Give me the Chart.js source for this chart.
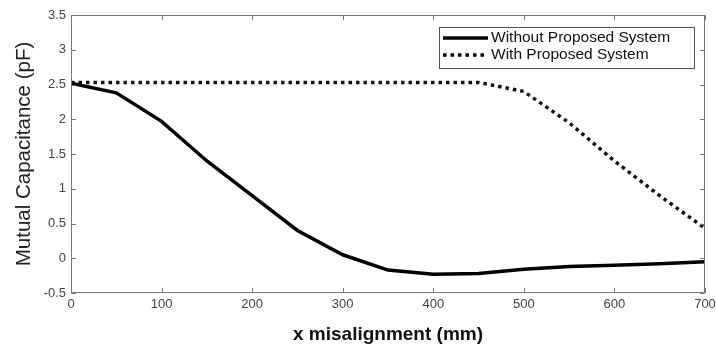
<!DOCTYPE html>
<html>
<head>
<meta charset="utf-8">
<script src="https://cdn.jsdelivr.net/npm/chart.js@4"></script>
<style>
  html, body { margin: 0; padding: 0; background: #fff; }
  #wrap { width: 716px; height: 344px; }
</style>
</head>
<body>
<div id="wrap"><canvas id="capChart"></canvas></div>
<script>
const xValues = [0, 50, 100, 150, 200, 250, 300, 350, 400, 450, 500, 550, 600, 650, 700];
const withoutSystem = [2.52, 2.38, 1.97, 1.40, 0.90, 0.40, 0.05, -0.17, -0.23, -0.22, -0.16, -0.12, -0.10, -0.08, -0.05];
const withSystem = [2.53, 2.53, 2.53, 2.53, 2.53, 2.53, 2.53, 2.53, 2.53, 2.53, 2.40, 1.95, 1.40, 0.90, 0.43];
const seriesNames = ["Without Proposed System", "With Proposed System"];
const xTicks = [0, 100, 200, 300, 400, 500, 600, 700];
const yTicks = [-0.5, 0, 0.5, 1, 1.5, 2, 2.5, 3, 3.5];

const toPoints = (ys) => xValues.map((x, i) => ({ x: x, y: ys[i] }));

// frame on top/right plus inward tick marks on all four sides
const framePlugin = {
  id: "frame",
  afterDatasetsDraw(chart) {
    const { ctx, chartArea: a, scales } = chart;
    ctx.save();
    ctx.strokeStyle = "#777";
    ctx.lineWidth = 1;
    ctx.beginPath();
    ctx.rect(a.left + 0.5, a.top + 0.5, a.right - a.left - 1, a.bottom - a.top - 1);
    xTicks.forEach((t) => {
      const px = Math.round(scales.x.getPixelForValue(t)) + 0.5;
      ctx.moveTo(px, a.bottom);
      ctx.lineTo(px, a.bottom - 5);
      ctx.moveTo(px, a.top);
      ctx.lineTo(px, a.top + 5);
    });
    yTicks.forEach((t) => {
      const py = Math.round(scales.y.getPixelForValue(t)) + 0.5;
      ctx.moveTo(a.left, py);
      ctx.lineTo(a.left + 5, py);
      ctx.moveTo(a.right, py);
      ctx.lineTo(a.right - 5, py);
    });
    ctx.stroke();
    ctx.restore();
  },
};

// legend box in the top right corner
const legendPlugin = {
  id: "boxLegend",
  afterDraw(chart) {
    const { ctx, chartArea: a } = chart;
    const boxR = a.right - 11, boxT = a.top + 12, boxW = 255, boxH = 41;
    const boxL = boxR - boxW;
    ctx.save();
    ctx.fillStyle = "#fff";
    ctx.fillRect(boxL, boxT, boxW, boxH);
    ctx.strokeStyle = "#555";
    ctx.lineWidth = 1;
    ctx.strokeRect(boxL + 0.5, boxT + 0.5, boxW, boxH);
    ctx.font = "15.5px 'Liberation Sans', Arial, sans-serif";
    ctx.fillStyle = "#111";
    ctx.textBaseline = "middle";
    chart.data.datasets.forEach((ds, i) => {
      const y = boxT + 11 + i * 17;
      ctx.beginPath();
      ctx.strokeStyle = "#000";
      ctx.lineWidth = ds.borderWidth;
      ctx.setLineDash(ds.borderDash || []);
      ctx.moveTo(boxL + 4, y);
      ctx.lineTo(boxL + 49, y);
      ctx.stroke();
      ctx.setLineDash([]);
      ctx.fillText(seriesNames[i], boxL + 52, y);
    });
    ctx.restore();
  },
};

const ctx = document.getElementById("capChart").getContext("2d");
new Chart(ctx, {
  type: "line",
  data: {
    datasets: [
      {
        label: seriesNames[0],
        data: toPoints(withoutSystem),
        borderColor: "#000",
        borderWidth: 3.5,
        pointRadius: 0,
        tension: 0,
        fill: false,
      },
      {
        label: seriesNames[1],
        data: toPoints(withSystem),
        borderColor: "#111",
        borderWidth: 3.5,
        borderDash: [3.5, 4],
        pointRadius: 0,
        tension: 0,
        fill: false,
      },
    ],
  },
  options: {
    responsive: true,
    maintainAspectRatio: false,
    animation: false,
    layout: { padding: { top: 15, right: 0, left: 0, bottom: 0 } },
    plugins: { legend: { display: false }, tooltip: { enabled: false } },
    scales: {
      x: {
        type: "linear",
        min: 0,
        max: 700,
        afterBuildTicks: (s) => { s.ticks = xTicks.map((v) => ({ value: v })); },
        afterFit: (s) => {
          s.height = 51;
          s.paddingLeft = 0;
          s.paddingRight = 11;
        },
        ticks: {
          color: "#444",
          font: { family: "'Liberation Sans', Arial", size: 13 },
          padding: 4,
          maxRotation: 0,
          callback: (v) => String(v),
        },
        grid: { display: false, drawTicks: false },
        border: { display: false },
        title: {
          display: true,
          text: "x misalignment (mm)",
          color: "#111",
          font: { family: "'Liberation Sans', Arial", size: 19, weight: "bold", lineHeight: 1 },
          padding: { top: 0, bottom: 0 },
        },
      },
      y: {
        type: "linear",
        min: -0.5,
        max: 3.5,
        afterBuildTicks: (s) => { s.ticks = yTicks.map((v) => ({ value: v })); },
        afterFit: (s) => { s.width = 71; },
        ticks: {
          color: "#444",
          font: { family: "'Liberation Sans', Arial", size: 13 },
          padding: 5,
          callback: (v) => String(v),
        },
        grid: { display: false, drawTicks: false },
        border: { display: false },
        title: {
          display: true,
          text: "Mutual Capacitance (pF)",
          color: "#222",
          font: { family: "'Liberation Sans', Arial", size: 20.5 },
          padding: { top: 12, bottom: 0 },
        },
      },
    },
  },
  plugins: [framePlugin, legendPlugin],
});
</script>
</body>
</html>
